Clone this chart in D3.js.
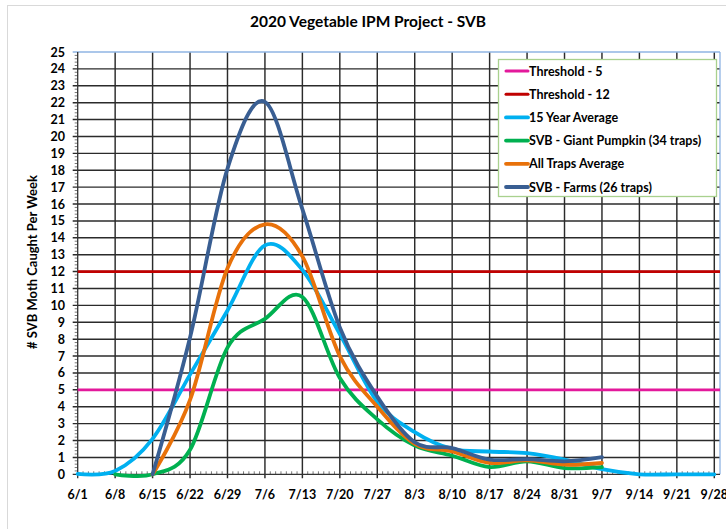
<!DOCTYPE html>
<html>
<head>
<meta charset="utf-8">
<script src="https://cdn.jsdelivr.net/npm/d3@7"></script>
<style>
  html, body { margin: 0; padding: 0; background: #fff; }
  svg text { font-family: Lato, "Open Sans", "Liberation Sans", sans-serif; font-weight: bold; fill: #000; }
</style>
</head>
<body>
<svg id="chart" width="726" height="529"></svg>
<script>
// ---------- data ----------
const weekLabels = ["6/1","6/8","6/15","6/22","6/29","7/6","7/13","7/20","7/27","8/3","8/10","8/17","8/24","8/31","9/7","9/14","9/21","9/28"];
const yTicks = d3.range(0, 26);
const threshold5 = 5;
const threshold12 = 12;
// values indexed by week (null = no data)
const avg15Year = [0.03, 0.2, 2.1, 5.9, 9.7, 13.55, 12.1, 8.3, 4.3, 2.5, 1.5, 1.35, 1.25, 0.87, 0.3, 0, 0, 0];
const giantPumpkin = [null, 0, 0, 1.45, 7.5, 9.2, 10.5, 5.7, 3.25, 1.7, 1.1, 0.43, 0.77, 0.37, 0.43, null, null, null];
const allTrapsAvg = [null, null, 0, 4.4, 12.2, 14.8, 12.9, 7.0, 4.0, 1.8, 1.35, 0.67, 0.83, 0.57, 0.67, null, null, null];
const farms = [null, null, 0, 8.1, 18.1, 22.05, 15.7, 8.7, 4.6, 1.9, 1.55, 0.87, 0.9, 0.77, 1.02, null, null, null];
const legendNames = ["Threshold - 5", "Threshold - 12", "15 Year Average", "SVB - Giant Pumpkin (34 traps)", "All Traps Average", "SVB - Farms (26 traps)"];
const colors = ["#E3199B", "#C00000", "#00B0F0", "#00B050", "#E8710A", "#395E92"];

// ---------- layout ----------
const svg = d3.select("#chart");
const plot = { left: 77.7, right: 720, top: 52, bottom: 474.3 };
const x = d3.scaleLinear().domain([0, weekLabels.length - 1]).range([plot.left, 714.3]);
const y = d3.scaleLinear().domain([0, 25]).range([plot.bottom, plot.top]);

// outer chart border
svg.append("rect").attr("x", 7.5).attr("y", 5.5).attr("width", 740).attr("height", 540)
  .attr("fill", "#fff").attr("stroke", "#d9d9d9").attr("stroke-width", 1);

// title
svg.append("text").attr("x", 368).attr("y", 27).attr("text-anchor", "middle")
  .style("font-size", "15.5px").text("2020 Vegetable IPM Project - SVB");

// horizontal gridlines (+ major y ticks)
svg.append("g").selectAll("line").data(yTicks.filter(d => d > 0 && d < 25)).join("line")
  .attr("x1", plot.left - 5).attr("x2", plot.right)
  .attr("y1", d => y(d)).attr("y2", d => y(d))
  .attr("stroke", "#2b2b2b").attr("stroke-width", 1.45);
// vertical gridlines (+ major x ticks)
svg.append("g").selectAll("line").data(d3.range(1, weekLabels.length)).join("line")
  .attr("x1", d => x(d)).attr("x2", d => x(d))
  .attr("y1", plot.top).attr("y2", plot.bottom + 4)
  .attr("stroke", "#2b2b2b").attr("stroke-width", 1.45);

// minor y ticks (left of axis)
svg.append("g").selectAll("line").data(d3.range(0, 125).filter(i => i % 5 !== 0)).join("line")
  .attr("x1", plot.left - 3).attr("x2", plot.left)
  .attr("y1", i => y(i / 5)).attr("y2", i => y(i / 5))
  .attr("stroke", "#555").attr("stroke-width", 0.8);
// minor x ticks (daily, above axis)
svg.append("g").selectAll("line").data(d3.range(0, (weekLabels.length - 1) * 7).filter(i => i % 7 !== 0)).join("line")
  .attr("x1", i => x(i / 7)).attr("x2", i => x(i / 7))
  .attr("y1", plot.bottom - 3).attr("y2", plot.bottom)
  .attr("stroke", "#555").attr("stroke-width", 0.8);

// plot border: top & right light blue
svg.append("line").attr("x1", plot.left - 5).attr("x2", plot.right).attr("y1", plot.top).attr("y2", plot.top)
  .attr("stroke", "#8FB4E3").attr("stroke-width", 1.3);
svg.append("line").attr("x1", plot.right).attr("x2", plot.right).attr("y1", plot.top).attr("y2", plot.bottom)
  .attr("stroke", "#8FB4E3").attr("stroke-width", 1.3);
// axes lines
svg.append("line").attr("x1", plot.left).attr("x2", plot.left).attr("y1", plot.top).attr("y2", plot.bottom + 4)
  .attr("stroke", "#333").attr("stroke-width", 1.3);
svg.append("line").attr("x1", plot.left - 5).attr("x2", plot.right).attr("y1", plot.bottom).attr("y2", plot.bottom)
  .attr("stroke", "#333").attr("stroke-width", 1.3);

// y tick labels
svg.append("g").selectAll("text").data(yTicks).join("text")
  .attr("x", 65).attr("y", d => y(d)).attr("dy", "0.36em").attr("text-anchor", "end")
  .style("font-size", "12.5px").text(d => d);
// x tick labels
svg.append("g").selectAll("text").data(weekLabels).join("text")
  .attr("x", (d, i) => x(i)).attr("y", 498.5).attr("text-anchor", "middle")
  .style("font-size", "12.5px").text(d => d);

// y axis title
svg.append("text").attr("transform", "translate(37,262) rotate(-90)").attr("text-anchor", "middle")
  .style("font-size", "13px").text("# SVB Moth Caught Per Week");

// threshold lines
[threshold5, threshold12].forEach((t, i) => {
  svg.append("line").attr("x1", plot.left).attr("x2", plot.right)
    .attr("y1", y(t)).attr("y2", y(t))
    .attr("stroke", colors[i]).attr("stroke-width", 2.8);
});

// series
const line = d3.line()
  .defined(d => d != null)
  .x((d, i) => x(i))
  .y(d => y(d))
  .curve(d3.curveCardinal.tension(0));
const series = [avg15Year, giantPumpkin, allTrapsAvg, farms];
series.forEach((s, i) => {
  svg.append("path").datum(s).attr("d", line)
    .attr("fill", "none").attr("stroke", colors[i + 2]).attr("stroke-width", 3.8)
    .attr("stroke-linejoin", "round").attr("stroke-linecap", "round");
});

// legend
const lg = svg.append("g");
lg.append("rect").attr("x", 498.5).attr("y", 59.5).attr("width", 218).attr("height", 137)
  .attr("fill", "#fff").attr("stroke", "#A9D18E").attr("stroke-width", 1.3);
legendNames.forEach((name, i) => {
  const yy = 71 + i * 23.2;
  lg.append("line").attr("x1", 506).attr("x2", 528).attr("y1", yy).attr("y2", yy)
    .attr("stroke", colors[i]).attr("stroke-width", i < 2 ? 3 : 3.8).attr("stroke-linecap", "round");
  lg.append("text").attr("x", 529).attr("y", yy).attr("dy", "0.36em")
    .style("font-size", "12.5px").text(name);
});
</script>
</body>
</html>
